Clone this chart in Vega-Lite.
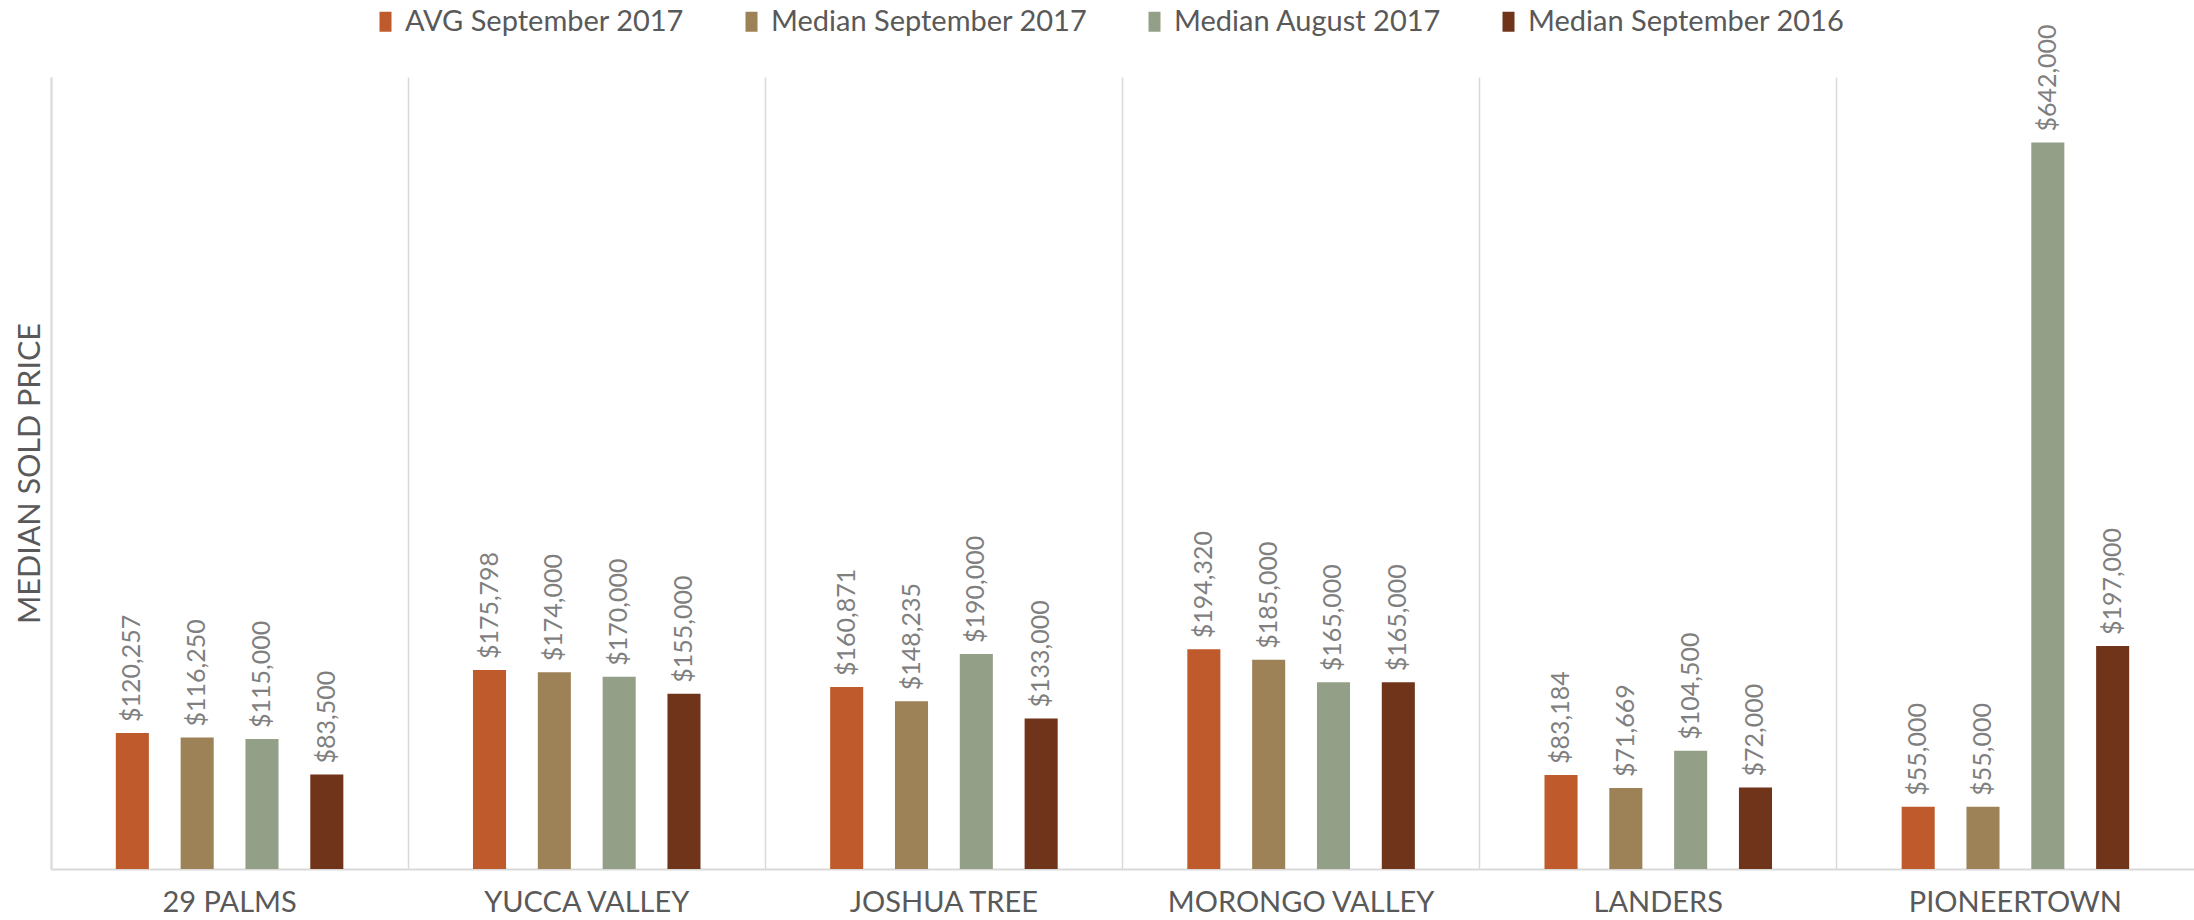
{
  "$schema": "https://vega.github.io/schema/vega-lite/v6.json",
  "autosize": {"type": "none"},
  "width": 2143,
  "height": 792,
  "padding": {"left": 51, "top": 77, "right": 0, "bottom": 51},
  "background": "white",
  "config": {
    "view": {"stroke": null},
    "font": "Lato"
  },
  "data": {
    "values": [
      {"area": "29 PALMS", "series": "AVG September 2017", "price": 120257},
      {"area": "29 PALMS", "series": "Median September 2017", "price": 116250},
      {"area": "29 PALMS", "series": "Median August 2017", "price": 115000},
      {"area": "29 PALMS", "series": "Median September 2016", "price": 83500},
      {"area": "YUCCA VALLEY", "series": "AVG September 2017", "price": 175798},
      {"area": "YUCCA VALLEY", "series": "Median September 2017", "price": 174000},
      {"area": "YUCCA VALLEY", "series": "Median August 2017", "price": 170000},
      {"area": "YUCCA VALLEY", "series": "Median September 2016", "price": 155000},
      {"area": "JOSHUA TREE", "series": "AVG September 2017", "price": 160871},
      {"area": "JOSHUA TREE", "series": "Median September 2017", "price": 148235},
      {"area": "JOSHUA TREE", "series": "Median August 2017", "price": 190000},
      {"area": "JOSHUA TREE", "series": "Median September 2016", "price": 133000},
      {"area": "MORONGO VALLEY", "series": "AVG September 2017", "price": 194320},
      {"area": "MORONGO VALLEY", "series": "Median September 2017", "price": 185000},
      {"area": "MORONGO VALLEY", "series": "Median August 2017", "price": 165000},
      {"area": "MORONGO VALLEY", "series": "Median September 2016", "price": 165000},
      {"area": "LANDERS", "series": "AVG September 2017", "price": 83184},
      {"area": "LANDERS", "series": "Median September 2017", "price": 71669},
      {"area": "LANDERS", "series": "Median August 2017", "price": 104500},
      {"area": "LANDERS", "series": "Median September 2016", "price": 72000},
      {"area": "PIONEERTOWN", "series": "AVG September 2017", "price": 55000},
      {"area": "PIONEERTOWN", "series": "Median September 2017", "price": 55000},
      {"area": "PIONEERTOWN", "series": "Median August 2017", "price": 642000},
      {"area": "PIONEERTOWN", "series": "Median September 2016", "price": 197000}
    ]
  },
  "encoding": {
    "x": {
      "field": "area",
      "type": "nominal",
      "sort": null,
      "scale": {"paddingInner": 0, "paddingOuter": 0},
      "axis": {
        "title": null,
        "labelAngle": 0,
        "labelFont": "Lato",
        "labelFontSize": 29,
        "labelColor": "#595959",
        "labelBaseline": "alphabetic",
        "labelPadding": 42,
        "labelLimit": 0,
        "ticks": false,
        "domainColor": "#d9d9d9",
        "domainWidth": 2,
        "grid": true,
        "bandPosition": 0,
        "gridColor": "#d9d9d9",
        "gridWidth": 1.5
      }
    },
    "xOffset": {
      "field": "series",
      "type": "nominal",
      "sort": ["AVG September 2017", "Median September 2017", "Median August 2017", "Median September 2016"],
      "scale": {"paddingInner": 0.49, "paddingOuter": 1.17}
    },
    "y": {
      "field": "price",
      "type": "quantitative",
      "scale": {"domain": [0, 700000], "nice": false},
      "axis": {
        "title": "MEDIAN SOLD PRICE",
        "titleFont": "Lato",
        "titleFontSize": 30.5,
        "titleFontWeight": "normal",
        "titleColor": "#595959",
        "titlePadding": 6,
        "labels": false,
        "ticks": false,
        "grid": false,
        "domainColor": "#d9d9d9",
        "domainWidth": 2
      }
    }
  },
  "layer": [
    {
      "mark": {"type": "bar"},
      "encoding": {
        "color": {
          "field": "series",
          "type": "nominal",
          "sort": ["AVG September 2017", "Median September 2017", "Median August 2017", "Median September 2016"],
          "scale": {
            "domain": ["AVG September 2017", "Median September 2017", "Median August 2017", "Median September 2016"],
            "range": ["#BE5A2C", "#9C8256", "#949F87", "#6F3419"]
          },
          "legend": {
            "title": null,
            "orient": "none",
            "direction": "horizontal",
            "legendX": 320,
            "legendY": -70,
            "symbolType": "M-0.6,-1H0.6V1H-0.6Z",
            "symbolSize": 400,
            "symbolStrokeWidth": 0,
            "labelFont": "Lato",
            "labelFontSize": 29,
            "labelColor": "#595959",
            "labelOffset": 5,
            "columnPadding": 52,
            "labelLimit": 600
          }
        }
      }
    },
    {
      "mark": {
        "type": "text",
        "angle": 270,
        "align": "left",
        "baseline": "middle",
        "dx": 11,
        "font": "Lato",
        "fontSize": 25,
        "color": "#7f7f7f"
      },
      "encoding": {
        "text": {"field": "price", "type": "quantitative", "format": "$,.0f"}
      }
    }
  ]
}
